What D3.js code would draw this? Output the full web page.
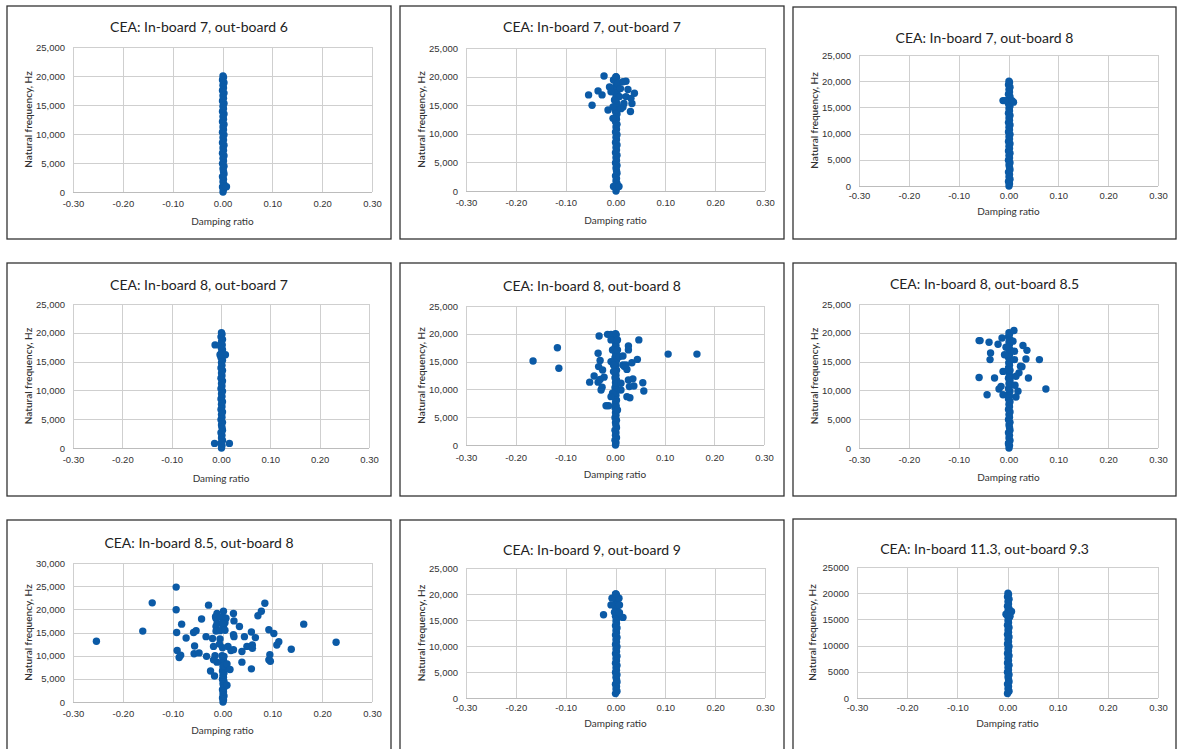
<!DOCTYPE html>
<html>
<head>
<meta charset="utf-8">
<script src="https://cdn.jsdelivr.net/npm/d3@7"></script>
<style>
  body { margin: 0; background: #fff; }
  svg { display: block; font-family: Lato, "Open Sans", sans-serif; }
</style>
</head>
<body>
<div id="chart"></div>
<script>
// ---- data ----
const titles = [
    "CEA: In-board 7, out-board 6",
    "CEA: In-board 7, out-board 7",
    "CEA: In-board 7, out-board 8",
    "CEA: In-board 8, out-board 7",
    "CEA: In-board 8, out-board 8",
    "CEA: In-board 8, out-board 8.5",
    "CEA: In-board 8.5, out-board 8",
    "CEA: In-board 9, out-board 9",
    "CEA: In-board 11.3, out-board 9.3"
];
const xTitles = ["Damping ratio", "Damping ratio", "Damping ratio", "Daming ratio", "Damping ratio",
    "Damping ratio", "Damping ratio", "Damping ratio", "Damping ratio"];
const yTitle = "Natural frequency, Hz";

const xTicks = [-0.30, -0.20, -0.10, 0.00, 0.10, 0.20, 0.30];
const yTicks25k = [0, 5000, 10000, 15000, 20000, 25000];
const yTicks30k = [0, 5000, 10000, 15000, 20000, 25000, 30000];

// lightly damped modes that pile up on zeta ~ 0 in every panel
const columnHz = [0, 420, 850, 1300, 1750, 2200, 2650, 3100, 3550, 4000, 4450, 4900, 5350, 5800,
    6250, 6700, 7150, 7600, 8050, 8500, 8950, 9400, 9850, 10300, 10750, 11200, 11650, 12100,
    12550, 13000, 13450, 13900, 14350, 14800, 15250, 15700, 16150, 16600, 17050, 17500, 17950,
    18400, 18850, 19300, 19750, 20000];
const columnZeta = [0.001, 0.002, 0.000, 0.003, 0.001, 0.002, 0.000, 0.003, 0.002, 0.001, 0.003,
    0.000, 0.002, 0.001, 0.003, 0.000, 0.002, 0.001, 0.003, 0.000, 0.002, 0.001, 0.003, 0.000,
    0.002, 0.001, 0.003, 0.000, 0.002, 0.001, 0.003, 0.000, 0.002, 0.001, 0.003, 0.000, 0.002,
    0.001, 0.003, 0.000, 0.002, 0.001, 0.003, 0.000, 0.002, 0.001];
const columnRange = [[0, 20000], [0, 20000], [0, 20000], [0, 20000], [0, 20000], [0, 20000],
    [0, 10000], [700, 20000], [700, 20000]];

// scattered modes per panel
const p1Zeta = [0.008];
const p1Hz = [900];

const p2Zeta = [-0.054, -0.047, -0.035, -0.027, -0.023, -0.015, -0.012, -0.005, 0.021, 0.025, 0.021,
    0.015, 0.031, 0.033, 0.030, 0.038, -0.004, 0.007, -0.004, 0.001, 0.005, 0.010, 0.015, 0.008,
    -0.002, 0.017, 0.003, -0.009, -0.005, 0.011];
const p2Hz = [16800, 15000, 17500, 16800, 20100, 14150, 18200, 12700, 19200, 17750, 16500,
    14700, 16200, 15300, 13900, 17100, 800, 800, 19400, 19950, 18800, 17900, 19100, 16500,
    15900, 15300, 14150, 17350, 14700, 14400];

const p3Zeta = [-0.011, -0.007, 0.007, 0.010];
const p3Hz = [16300, 16300, 16300, 16000];

const p4Zeta = [-0.012, 0.009, -0.002, -0.013, 0.017, 0.002];
const p4Hz = [17900, 16200, 16200, 800, 800, 17800];

const p5Zeta = [-0.165, -0.116, -0.113, -0.051, -0.042, -0.032, -0.034, -0.034, -0.028, -0.026,
    -0.030, -0.033, -0.025, -0.022, -0.030, -0.018, -0.013, -0.015, -0.008, 0.002, -0.008, 0.005,
    -0.005, 0.005, -0.008, 0.009, -0.003, -0.003, 0.002, 0.005, -0.005, -0.008, 0.012, 0.012,
    0.002, 0.005, 0.016, 0.016, 0.019, 0.024, 0.022, 0.027, 0.027, 0.027, 0.029, 0.024, 0.030,
    0.034, 0.036, 0.038, 0.045, 0.048, 0.056, 0.058, 0.107, 0.165];
const p5Hz = [15100, 17500, 13800, 11300, 12400, 19600, 16500, 11300, 9900, 10400,
    15200, 14100, 13500, 12200, 11800, 7050, 7050, 19900, 19900, 19900, 18900, 18900,
    17100, 17100, 15000, 15900, 14400, 13200, 11800, 11100, 9300, 8700, 11100, 9900,
    6900, 6300, 16000, 14400, 14100, 13600, 14400, 17800, 17100, 11700, 10500, 8700, 8500,
    14800, 11900, 10600, 15400, 18900, 11200, 9700, 16350, 16350];

const p6Zeta = [-0.059, -0.057, -0.059, -0.043, -0.039, -0.036, -0.037, -0.028, -0.021, -0.019,
    -0.015, -0.011, -0.013, -0.008, -0.011, -0.005, 0.001, 0.002, 0.003, 0.011, 0.009, 0.012,
    0.012, 0.015, 0.013, 0.019, 0.015, 0.021, 0.024, 0.027, 0.029, 0.037, 0.035, 0.040, 0.062,
    0.075, 0.000];
const p6Hz = [18650, 18650, 12250, 9250, 18350, 16500, 15350, 12150, 18000, 10250,
    10700, 9250, 19100, 16200, 13300, 17500, 14750, 13600, 12150, 20400, 18550, 16800,
    15350, 12450, 10900, 9850, 8850, 13050, 14200, 14100, 17800, 16950, 15450, 12150, 15350,
    10250, 700];

const p7Zeta = [-0.253, -0.160, -0.141, -0.093, -0.093, -0.092, -0.091, -0.087, -0.084, -0.082,
    -0.073, -0.056, -0.058, -0.053, -0.057, -0.047, -0.042, -0.032, -0.033, -0.028, -0.024,
    -0.020, -0.016, -0.018, -0.011, -0.013, -0.013, -0.011, -0.015, -0.018, -0.005, -0.006,
    0.002, 0.003, 0.002, 0.005, -0.001, 0.002, 0.009, 0.015, 0.009, 0.011, 0.017, 0.022, 0.023,
    0.022, 0.022, 0.023, 0.034, 0.039, 0.039, 0.044, 0.049, 0.058, 0.058, 0.060, 0.066, 0.060,
    0.071, 0.078, 0.085, 0.093, 0.103, 0.095, 0.093, 0.096, 0.109, 0.113, 0.138, 0.163, 0.228,
    -0.014, -0.004, 0.007, -0.011, 0.000, -0.013, -0.005, 0.005, 0.000];
const p7Hz = [13100, 15300, 21400, 24800, 19900, 15000, 11100, 9600, 10100, 16800,
    13800, 12100, 15000, 15400, 10400, 10600, 17900, 9850, 14100, 20900, 6700,
    13700, 5600, 12000, 19100, 18000, 16300, 8600, 10000, 9100, 13600, 12500,
    19600, 18200, 16400, 17100, 10000, 7850, 8200, 7000, 3600, 12000, 11100, 19100, 17500,
    14500, 11300, 14100, 16300, 10900, 8600, 14100, 12000, 7150, 15100, 12300, 13900, 11600,
    18600, 19600, 21300, 15600, 14800, 10200, 9100, 8800, 12300, 13000, 11400, 16800, 12900,
    18400, 18300, 18100, 16900, 17000, 15300, 15400, 15500, 11700];

const p8Zeta = [-0.024, -0.009, 0.008, -0.007, 0.007, 0.000, 0.015, -0.002, 0.008];
const p8Hz = [16000, 17900, 17900, 19200, 19200, 20000, 15500, 16500, 16400];

const p9Zeta = [-0.003, 0.008, 0.005];
const p9Hz = [16000, 16500, 15600];

const panelZeta = [p1Zeta, p2Zeta, p3Zeta, p4Zeta, p5Zeta, p6Zeta, p7Zeta, p8Zeta, p9Zeta];
const panelHz = [p1Hz, p2Hz, p3Hz, p4Hz, p5Hz, p6Hz, p7Hz, p8Hz, p9Hz];
const panelYTicks = [yTicks25k, yTicks25k, yTicks25k, yTicks25k, yTicks25k, yTicks25k,
    yTicks30k, yTicks25k, yTicks25k];
const panelCommas = [true, true, true, true, true, true, true, true, false];

// ---- layout (pixel positions of each framed chart) ----
const layout = [
    { box: [7, 6, 391, 239],     plot: [73, 372, 47, 192],    titleY: 26,  tickY: 12, axisY: 29 },
    { box: [400, 6, 784, 239],   plot: [466, 765, 48, 191],   titleY: 26,  tickY: 12, axisY: 29 },
    { box: [793, 7, 1176, 239],  plot: [859, 1158, 55, 186],  titleY: 37,  tickY: 10, axisY: 25 },
    { box: [7, 263, 391, 496],   plot: [73, 369, 304, 448],   titleY: 284, tickY: 12, axisY: 30 },
    { box: [400, 263, 784, 496], plot: [466, 764, 306, 445],  titleY: 285, tickY: 13, axisY: 29 },
    { box: [793, 263, 1176, 496],plot: [859, 1158, 304, 448], titleY: 283, tickY: 12, axisY: 29 },
    { box: [7, 520, 391, 760],   plot: [73, 372, 563, 702],   titleY: 542, tickY: 12, axisY: 28 },
    { box: [400, 520, 784, 760], plot: [466, 765, 568, 698],  titleY: 549, tickY: 10, axisY: 25 },
    { box: [793, 519, 1176, 760],plot: [857, 1158, 567, 698], titleY: 548, tickY: 10, axisY: 25 }
];

const dotColor = "#0b5aa6";
const gridColor = "#cfcfcf";
const locale = d3.formatLocale({ decimal: ".", thousands: ",", grouping: [3], currency: ["", ""], minus: "-" });
const fmtX = locale.format(".2f");
const fmtYc = locale.format(",.0f");
const fmtY = locale.format(".0f");

const svg = d3.select("#chart").append("svg")
    .attr("width", 1179)
    .attr("height", 749);

layout.forEach((L, i) => {
    const g = svg.append("g");
    const [left, right, top, bottom] = L.plot;
    const yTicks = panelYTicks[i];

    g.append("rect")
        .attr("x", L.box[0]).attr("y", L.box[1])
        .attr("width", L.box[2] - L.box[0]).attr("height", L.box[3] - L.box[1])
        .attr("fill", "#fff")
        .attr("stroke", "#333")
        .attr("stroke-width", 1.3);

    const x = d3.scaleLinear().domain([-0.3, 0.3]).range([left, right]);
    const y = d3.scaleLinear().domain([0, yTicks[yTicks.length - 1]]).range([bottom, top]);

    // gridlines
    g.append("g").selectAll("line").data(xTicks).join("line")
        .attr("x1", d => Math.round(x(d)) + 0.5).attr("x2", d => Math.round(x(d)) + 0.5)
        .attr("y1", top).attr("y2", bottom)
        .attr("stroke", gridColor);
    g.append("g").selectAll("line").data(yTicks).join("line")
        .attr("x1", left).attr("x2", right)
        .attr("y1", d => Math.round(y(d)) + 0.5).attr("y2", d => Math.round(y(d)) + 0.5)
        .attr("stroke", d => d === 0 ? "#bcbcbc" : gridColor);

    // axes (labels only, lines are the grid)
    const xAxis = g.append("g")
        .attr("transform", `translate(0,${bottom})`)
        .call(d3.axisBottom(x).tickValues(xTicks).tickSize(0).tickPadding(L.tickY - 4).tickFormat(fmtX));
    const yAxis = g.append("g")
        .attr("transform", `translate(${left},0)`)
        .call(d3.axisLeft(y).tickValues(yTicks).tickSize(0).tickPadding(8)
            .tickFormat(panelCommas[i] ? fmtYc : fmtY));
    [xAxis, yAxis].forEach(a => {
        a.select(".domain").remove();
        a.selectAll("text").attr("fill", "#333").style("font-size", "9.5px").attr("font-family", null);
    });

    // titles
    g.append("text")
        .attr("x", (L.box[0] + L.box[2]) / 2).attr("y", L.titleY)
        .attr("text-anchor", "middle").attr("dominant-baseline", "central")
        .attr("fill", "#222").style("font-size", "14px")
        .text(titles[i]);
    g.append("text")
        .attr("x", (left + right) / 2).attr("y", bottom + L.axisY)
        .attr("text-anchor", "middle").attr("dominant-baseline", "central")
        .attr("fill", "#333").style("font-size", "10px")
        .text(xTitles[i]);
    g.append("text")
        .attr("transform", `translate(${left - 45},${(top + bottom) / 2}) rotate(-90)`)
        .attr("text-anchor", "middle").attr("dominant-baseline", "central")
        .attr("fill", "#333").style("font-size", "10px").style("font-weight", "600")
        .text(yTitle);

    // points: zeta~0 column first, then the scattered modes
    const [lo, hi] = columnRange[i];
    const column = columnHz.map((hz, k) => ({ zeta: columnZeta[k], hz }))
        .filter(d => d.hz >= lo && d.hz <= hi);
    const scatter = panelZeta[i].map((zeta, k) => ({ zeta, hz: panelHz[i][k] }));

    g.append("g").selectAll("circle").data(column.concat(scatter)).join("circle")
        .attr("cx", d => x(d.zeta))
        .attr("cy", d => y(d.hz))
        .attr("r", 3.7)
        .attr("fill", dotColor);
});
</script>
</body>
</html>
